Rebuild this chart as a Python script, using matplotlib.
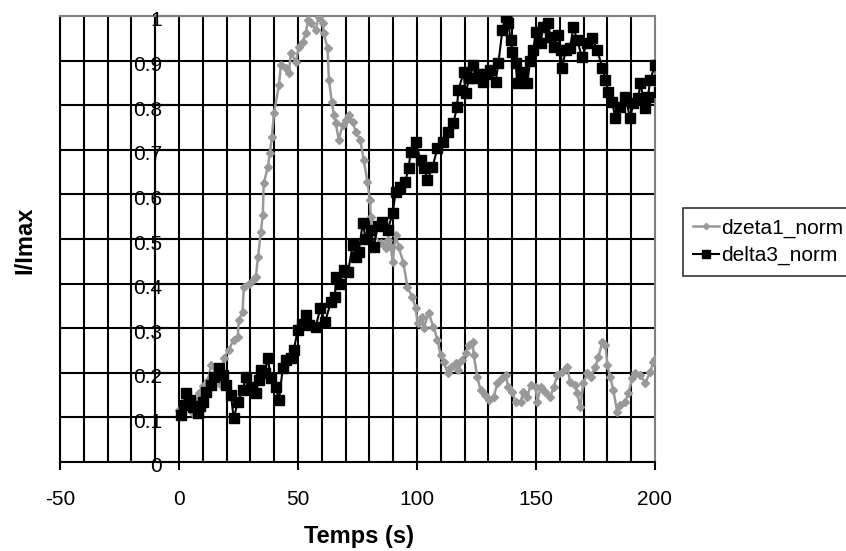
import matplotlib
matplotlib.use('Agg')
import matplotlib.pyplot as plt
import matplotlib.transforms as mtransforms

plt.rcParams['font.family'] = ['Liberation Sans', 'DejaVu Sans']

# --- data ---
dzeta1_t = [0, 1.5, 3, 4.5, 5.7, 7, 8.4, 10, 12.2, 13.5, 15.5, 17.6, 18.8, 20.8, 23, 24.7,
            25.1, 26.7, 27.2, 29.4, 31.5, 32.3, 33.2, 34.4, 35.2, 35.6, 37.3, 38.2, 39, 39.9,
            42, 42.8, 44.8, 46.1, 47, 49.1, 50.3, 52, 53.3, 54.2, 55.4, 57.4, 58.7, 60.4,
            60.8, 62.4, 63, 64.2, 65.1, 65.9, 67.1, 68.8, 70.1, 71.3, 73, 74.3, 76.2, 77.6,
            79.2, 80.2, 80.6, 81.2, 84.7, 86.8, 88, 89, 89.8, 91, 92.3, 94.3, 96, 98, 99.4,
            100.3, 102.3, 102.8, 104.9, 106.9, 108.6, 109.9, 111.2, 112.9, 114.1, 116.2,
            117.4, 119.1, 120.4, 121.7, 123.4, 123.8, 125.4, 126.7, 128.7, 130.1, 132.2,
            133.8, 135.9, 137.2, 138.4, 140.1, 141.4, 143.5, 144.7, 146.4, 147.7, 149.8,
            150.6, 151.9, 153.9, 156, 157.4, 159, 161.1, 163.2, 164.3, 166.5, 167.3, 168.6,
            169.9, 171.6, 172.9, 174.9, 176.2, 177.9, 179.2, 180, 181.2, 182.5, 184.1,
            185.4, 187.5, 188.8, 190.5, 191.7, 193.8, 195.9, 198, 199.3, 200]
dzeta1_v = [0.117, 0.13, 0.139, 0.12, 0.11, 0.13, 0.155, 0.17, 0.184, 0.218, 0.2, 0.172, 0.233,
            0.251, 0.274, 0.28, 0.318, 0.336, 0.392, 0.4, 0.41, 0.415, 0.46, 0.516, 0.554,
            0.625, 0.661, 0.693, 0.729, 0.782, 0.845, 0.89, 0.883, 0.872, 0.917, 0.897, 0.93,
            0.942, 0.962, 0.991, 0.984, 0.969, 0.998, 0.984, 0.962, 0.928, 0.857, 0.807,
            0.778, 0.76, 0.722, 0.756, 0.767, 0.778, 0.762, 0.74, 0.722, 0.677, 0.628, 0.587,
            0.55, 0.513, 0.49, 0.48, 0.498, 0.482, 0.448, 0.509, 0.482, 0.446, 0.392, 0.37,
            0.345, 0.312, 0.325, 0.3, 0.334, 0.303, 0.274, 0.24, 0.224, 0.2, 0.213, 0.222,
            0.206, 0.229, 0.244, 0.262, 0.269, 0.24, 0.19, 0.161, 0.15, 0.139, 0.146, 0.177,
            0.188, 0.195, 0.168, 0.157, 0.135, 0.135, 0.157, 0.146, 0.173, 0.168, 0.135,
            0.168, 0.157, 0.146, 0.168, 0.195, 0.202, 0.213, 0.18, 0.173, 0.155, 0.123,
            0.177, 0.2, 0.19, 0.213, 0.235, 0.269, 0.262, 0.217, 0.19, 0.161, 0.112, 0.128,
            0.135, 0.155, 0.188, 0.2, 0.195, 0.177, 0.202, 0.224, 0.23]

delta3_t = [0.8, 2, 3, 4.5, 6, 8, 9, 10, 11.3, 13.4, 14.8, 16.8, 18.4, 19.8, 21.8, 23, 24.7,
            26.7, 28.1, 30.2, 32.3, 33.6, 34.4, 36, 37.3, 38.6, 40.6, 42, 43.6, 44.8, 47,
            48.2, 49.9, 51.5, 53.3, 54.5, 57.4, 59.4, 61.4, 63.8, 65.5, 66, 67.5, 69.3, 71,
            73, 74.3, 75.5, 77.2, 78.5, 80.5, 81.8, 83.5, 85.5, 87.7, 89.8, 91, 93, 95, 96.5,
            97.3, 99.4, 101.5, 103, 104.4, 106.5, 108.6, 110.8, 112.9, 115.3, 116.8, 117.4,
            119.6, 120.4, 122, 123.7, 124.5, 126, 127.7, 129, 130.7, 133, 134.2, 135.9,
            137.2, 138.4, 139.3, 140.1, 141.4, 142.2, 143.5, 144.3, 146.4, 147.5, 148.9,
            149.8, 151.9, 153.1, 155.2, 156, 157.4, 159.4, 160.3, 161.1, 162.4, 164.3,
            165.7, 167.3, 169.3, 171.6, 173.6, 175.7, 177.9, 179.2, 180.4, 182, 183.3,
            185.4, 187.5, 189.6, 190.9, 193, 193.8, 195.9, 197, 198, 200, 201.5]
delta3_v = [0.105, 0.128, 0.155, 0.14, 0.123, 0.11, 0.125, 0.135, 0.157, 0.172, 0.19, 0.21,
            0.195, 0.172, 0.15, 0.098, 0.135, 0.161, 0.19, 0.168, 0.155, 0.184, 0.206, 0.2,
            0.233, 0.188, 0.168, 0.139, 0.21, 0.229, 0.233, 0.251, 0.296, 0.31, 0.33, 0.307,
            0.303, 0.345, 0.314, 0.359, 0.37, 0.415, 0.4, 0.43, 0.426, 0.487, 0.46, 0.47,
            0.536, 0.5, 0.52, 0.482, 0.53, 0.538, 0.52, 0.558, 0.605, 0.617, 0.628, 0.659,
            0.695, 0.718, 0.677, 0.66, 0.632, 0.661, 0.704, 0.718, 0.74, 0.76, 0.796, 0.834,
            0.874, 0.827, 0.86, 0.89, 0.86, 0.87, 0.852, 0.87, 0.879, 0.852, 0.895, 0.969,
            0.998, 0.984, 0.946, 0.92, 0.894, 0.85, 0.86, 0.874, 0.85, 0.9, 0.924, 0.964,
            0.94, 0.976, 0.984, 0.953, 0.93, 0.957, 0.924, 0.883, 0.924, 0.928, 0.976, 0.946,
            0.908, 0.94, 0.95, 0.924, 0.883, 0.857, 0.83, 0.807, 0.771, 0.796, 0.818, 0.771,
            0.805, 0.816, 0.85, 0.794, 0.818, 0.857, 0.89, 0.83]

x_ticks = [-50, 0, 50, 100, 150, 200]
y_ticks = [0, 0.1, 0.2, 0.3, 0.4, 0.5, 0.6, 0.7, 0.8, 0.9, 1]
y_labels = ['0', '0.1', '0.2', '0.3', '0.4', '0.5', '0.6', '0.7', '0.8', '0.9', '1']

W, H = 846, 551
fig = plt.figure(figsize=(W / 100, H / 100), dpi=100)
ax = fig.add_axes([60 / W, 1 - 462 / H, (655 - 60) / W, (462 - 16) / H])
ax.set_xlim(-50, 200)
ax.set_ylim(0, 1)

# grid: every 10 s, every 0.1
for gx in range(-50, 200, 10):
    ax.axvline(gx, color='black', lw=1.5, zorder=1)
for gy in y_ticks[1:-1]:
    ax.axhline(gy, color='black', lw=1.5, zorder=1)

# y axis sits at x = -10 (Excel style), ticks run to the right
ax.axvline(-10, color='black', lw=1.5, zorder=2)
ax.hlines(y_ticks, -10, 0, color='black', lw=1.5, zorder=2, clip_on=False)

for s in ['top', 'right']:
    ax.spines[s].set_color('#808080')
    ax.spines[s].set_linewidth(1.5)
ax.spines['left'].set_color('black')
ax.spines['left'].set_linewidth(1.5)
ax.spines['bottom'].set_color('black')
ax.spines['bottom'].set_linewidth(1.5)

ax.plot(dzeta1_t, dzeta1_v, color='#999999', lw=1.8, marker='D', ms=4,
        label='dzeta1_norm', zorder=3)
ax.plot(delta3_t, delta3_v, color='black', lw=1.5, marker='s', ms=7,
        label='delta3_norm', zorder=4)

ax.set_xticks(x_ticks)
ax.set_xticklabels([str(v) for v in x_ticks])
ax.tick_params(axis='x', direction='out', length=6, width=1.5, labelsize=15, pad=14)
ax.set_yticks([])

# y tick labels drawn over the axis, a bit below each line
off = mtransforms.offset_copy(ax.transData, fig=fig, x=0, y=-5, units='dots')
for yv, lab in zip(y_ticks, y_labels):
    ax.text(-7, yv, lab, transform=off, ha='right', va='center', fontsize=15,
            zorder=5, clip_on=False)

fig.text(359 / W, 1 - 537 / H, 'Temps (s)', ha='center', va='center',
         fontsize=17, fontweight='bold')
fig.text(25 / W, 1 - 240 / H, 'I/Imax', ha='center', va='center', rotation=90,
         fontsize=17, fontweight='bold')

leg = fig.legend(loc='upper left', bbox_to_anchor=(683 / W, 1 - 208 / H),
                 borderaxespad=0, fontsize=15, frameon=True, fancybox=False,
                 handlelength=1.25, handletextpad=0.1, labelspacing=0.4,
                 borderpad=0.5, markerscale=0.8)
leg.get_frame().set_edgecolor('black')
leg.get_frame().set_linewidth(1.2)

plt.savefig('out.png', dpi=100)
plt.close(fig)
